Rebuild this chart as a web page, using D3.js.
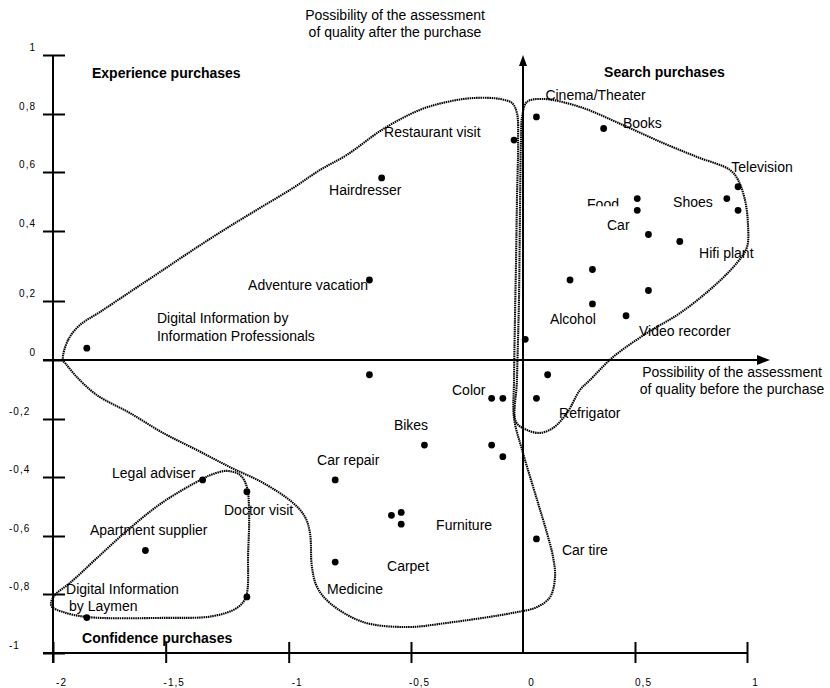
<!DOCTYPE html>
<html><head><meta charset="utf-8">
<script src="https://cdn.jsdelivr.net/npm/d3@7"></script>
<style>
body{margin:0;background:#fff}
text{font-family:"Liberation Sans",Arial,Helvetica,sans-serif;fill:#000}
</style>
</head><body>
<svg id="c" width="830" height="688"></svg>
<script>
// ---------- data ----------
const xTicks = [-2, -1.5, -1, -0.5, 0, 0.5, 1];
const xTickLabels = ["-2", "-1,5", "-1", "-0,5", "0", "0,5", "1"];
const yTicks = [1, 0.8, 0.6, 0.4, 0.2, 0, -0.2, -0.4, -0.6, -0.8, -1];
const yTickLabels = ["1", "0,8", "0,6", "0,4", "0,2", "0", "-0,2", "-0,4", "-0,6", "-0,8", "-1"];

const points = [
  [0.06, 0.79], [0.36, 0.75], [-0.04, 0.71], [0.96, 0.55], [0.91, 0.51], [0.96, 0.47],
  [0.51, 0.51], [0.51, 0.47], [0.56, 0.39], [0.70, 0.37], [0.31, 0.29], [0.21, 0.26],
  [0.56, 0.23], [0.31, 0.19], [0.46, 0.15], [0.01, 0.07], [0.11, -0.05], [-0.67, -0.05],
  [-0.14, -0.13], [-0.09, -0.13], [0.06, -0.13], [-0.44, -0.29], [-0.14, -0.29], [-0.09, -0.33],
  [-0.81, -0.41], [-0.58, -0.53], [-0.54, -0.52], [-0.54, -0.56], [0.06, -0.61], [-0.81, -0.69],
  [-1.85, 0.04], [-0.62, 0.58], [-0.67, 0.26], [-1.35, -0.41], [-1.17, -0.45], [-1.59, -0.65],
  [-1.17, -0.81], [-1.85, -0.88]
];

const labels = [
  ["Cinema/Theater", 0.10, 0.864], ["Books", 0.446, 0.769], ["Restaurant visit", -0.61, 0.738],
  ["Television", 0.93, 0.617], ["Shoes", 0.67, 0.498], ["Food", 0.286, 0.49], ["Car", 0.375, 0.42],
  ["Hifi plant", 0.786, 0.337], ["Alcohol", 0.12, 0.139], ["Video recorder", 0.518, 0.098],
  ["Color", -0.317, -0.102], ["Refrigator", 0.161, -0.18], ["Bikes", -0.57, -0.221],
  ["Car repair", -0.884, -0.341], ["Furniture", -0.388, -0.563], ["Car tire", 0.174, -0.648],
  ["Carpet", -0.598, -0.703], ["Medicine", -0.843, -0.783], ["Hairdresser", -0.835, 0.539],
  ["Adventure vacation", -1.165, 0.246], ["Digital Information by", -1.539, 0.142],
  ["Information Professionals", -1.539, 0.081], ["Legal adviser", -1.738, -0.386],
  ["Doctor visit", -1.263, -0.512], ["Apartment supplier", -1.836, -0.58],
  ["Digital Information", -1.942, -0.783], ["by Laymen", -1.929, -0.841]
];

const regionLabels = [
  ["Experience purchases", -1.827, 0.939],
  ["Search purchases", 0.362, 0.942],
  ["Confidence purchases", -1.871, -0.949]
];

const axisTitleTop = ["Possibility of the assessment", "of quality after the purchase"];
const axisTitleRight = ["Possibility of the assessment", "of quality before the purchase"];

const outlineExperience = [
  [-1.956, 0], [-1.933, 0.068], [-1.880, 0.119], [-1.791, 0.163], [-1.658, 0.226], [-1.525, 0.283],
  [-1.389, 0.346], [-1.251, 0.410], [-1.117, 0.478], [-0.982, 0.546], [-0.872, 0.607], [-0.762, 0.659],
  [-0.614, 0.748], [-0.460, 0.814], [-0.339, 0.841], [-0.223, 0.854], [-0.103, 0.851], [-0.049, 0.837],
  [-0.027, 0.803], [-0.022, 0.700], [-0.027, 0.505], [-0.031, 0.317], [-0.036, 0.136], [-0.040, -0.068],
  [-0.040, -0.197], [0, -0.317], [0.063, -0.478], [0.107, -0.590], [0.134, -0.672], [0.143, -0.741],
  [0.121, -0.810], [0.063, -0.844], [-0.045, -0.864], [-0.339, -0.898], [-0.516, -0.912], [-0.696, -0.895],
  [-0.831, -0.831], [-0.884, -0.776], [-0.905, -0.707], [-0.913, -0.590], [-0.933, -0.536], [-0.982, -0.488],
  [-1.104, -0.420], [-1.239, -0.366], [-1.373, -0.307], [-1.512, -0.248], [-1.658, -0.180], [-1.805, -0.119],
  [-1.894, -0.058], [-1.942, -0.014]
];

const outlineSearch = [
  [-0.004, 0.790], [0.018, 0.841], [0.089, 0.851], [0.254, 0.824], [0.446, 0.762], [0.625, 0.700],
  [0.777, 0.652], [0.924, 0.607], [0.960, 0.573], [0.991, 0.505], [1.004, 0.427], [1.0, 0.354],
  [0.955, 0.309], [0.848, 0.240], [0.701, 0.159], [0.554, 0.092], [0.402, 0.010], [0.299, -0.068],
  [0.254, -0.102], [0.196, -0.180], [0.134, -0.231], [0.076, -0.248], [0.018, -0.238], [-0.031, -0.210],
  [-0.027, -0.068], [-0.018, 0.203], [-0.013, 0.505], [-0.009, 0.710]
];

const outlineConfidence = [
  [-2.009, -0.831], [-1.991, -0.803], [-1.925, -0.762], [-1.805, -0.676], [-1.658, -0.573], [-1.512, -0.485],
  [-1.352, -0.407], [-1.308, -0.390], [-1.251, -0.379], [-1.198, -0.393], [-1.170, -0.434], [-1.161, -0.522],
  [-1.165, -0.659], [-1.174, -0.810], [-1.210, -0.847], [-1.308, -0.875], [-1.512, -0.881], [-1.849, -0.878],
  [-1.956, -0.861], [-2.004, -0.844]
];

// ---------- layout ----------
const xRange = [53, 165.7, 288.7, 411, 523, 635, 747];
const yRange = [55, 114, 172, 231, 301, 360, 419, 477, 536, 594, 653];

const svg = d3.select("#c");
const x = d3.scaleLinear().domain(xTicks).range(xRange);
const y = d3.scaleLinear().domain(yTicks).range(yRange);

const ink = "#000";

// outlines
const line = d3.line().x(d => x(d[0])).y(d => y(d[1])).curve(d3.curveCatmullRomClosed.alpha(0.5));
[outlineExperience, outlineSearch, outlineConfidence].forEach(o => {
  svg.append("path").attr("d", line(o)).attr("fill", "none")
    .attr("stroke", ink).attr("stroke-width", 2.1).attr("stroke-dasharray", "1.5,0.7");
});

// left axis
const gy = svg.append("g").attr("transform", `translate(${x(-2)},0)`)
  .call(d3.axisLeft(y).tickValues(yTicks).tickSize(10).tickFormat(""));
gy.select(".domain").remove();
gy.selectAll(".tick text").remove();
gy.selectAll(".tick line").attr("x1", -10).attr("x2", 12).attr("stroke", ink).attr("stroke-width", 2);
gy.append("line").attr("x1", 0).attr("x2", 0).attr("y1", y(1)).attr("y2", y(-1) + 10)
  .attr("stroke", ink).attr("stroke-width", 2);
gy.selectAll(".tick").append("text")
  .attr("x", (d) => d < 0 ? -44 : -17)
  .attr("y", -8)
  .attr("text-anchor", d => d < 0 ? "start" : "end")
  .attr("dominant-baseline", "central")
  .style("font-size", "10px").style("letter-spacing", "1px")
  .text((d, i) => yTickLabels[i]);

// bottom axis
const gx = svg.append("g").attr("transform", `translate(0,${y(-1)})`)
  .call(d3.axisBottom(x).tickValues(xTicks).tickSize(10).tickFormat(""));
gx.select(".domain").remove();
gx.selectAll(".tick text").remove();
gx.selectAll(".tick line").attr("y1", -11).attr("y2", 10).attr("stroke", ink).attr("stroke-width", 2)
  .attr("display", d => d === 0 ? "none" : null);
gx.append("line").attr("x1", x(-2) - 10).attr("x2", x(1)).attr("y1", 0).attr("y2", 0)
  .attr("stroke", ink).attr("stroke-width", 2);
gx.selectAll(".tick").append("text")
  .attr("x", 8).attr("y", 29)
  .attr("text-anchor", "middle").attr("dominant-baseline", "central")
  .style("font-size", "10px").style("letter-spacing", "1px")
  .text((d, i) => xTickLabels[i]);

// horizontal arrow (x axis at y=0)
const hx0 = x(-2) - 10, hx1 = x(1) + 23, hy = y(0);
svg.append("line").attr("x1", hx0).attr("x2", hx1 - 10).attr("y1", hy).attr("y2", hy)
  .attr("stroke", ink).attr("stroke-width", 2);
svg.append("path").attr("d", `M${hx1},${hy} L${hx1 - 13},${hy - 5} L${hx1 - 13},${hy + 5} Z`).attr("fill", ink);

// vertical arrow (at x=0)
const vx = x(0), vy0 = y(-1), vy1 = y(1);
svg.append("line").attr("x1", vx).attr("x2", vx).attr("y1", vy0).attr("y2", vy1 + 8)
  .attr("stroke", ink).attr("stroke-width", 2);
svg.append("path").attr("d", `M${vx},${vy1} L${vx - 4},${vy1 + 11} L${vx + 4},${vy1 + 11} Z`).attr("fill", ink);

// points
svg.append("g").selectAll("circle").data(points).join("circle")
  .attr("cx", d => x(d[0])).attr("cy", d => y(d[1])).attr("r", 3.4).attr("fill", ink);

// labels
const lab = svg.append("g").selectAll("text").data(labels).join("text")
  .attr("x", d => x(d[1])).attr("y", d => y(d[2]))
  .attr("dominant-baseline", "central")
  .style("font-size", "14px")
  .text(d => d[0]);

// partially hidden "Food" label
lab.filter(d => d[0] === "Food").each(function () {
  const b = this.getBBox();
  svg.append("clipPath").attr("id", "foodclip").append("rect")
    .attr("x", b.x - 2).attr("y", b.y - 2).attr("width", b.width + 4).attr("height", b.height * 0.62 + 2);
  d3.select(this).attr("clip-path", "url(#foodclip)");
});

svg.append("g").selectAll("text").data(regionLabels).join("text")
  .attr("x", d => x(d[1])).attr("y", d => y(d[2]))
  .attr("dominant-baseline", "central")
  .style("font-size", "14px").style("font-weight", "bold")
  .text(d => d[0]);

// axis titles
svg.append("g").selectAll("text").data(axisTitleTop).join("text")
  .attr("x", 395).attr("y", (d, i) => 15 + i * 17)
  .attr("text-anchor", "middle").attr("dominant-baseline", "central")
  .style("font-size", "14px").text(d => d);

svg.append("g").selectAll("text").data(axisTitleRight).join("text")
  .attr("x", 732).attr("y", (d, i) => 372 + i * 17)
  .attr("text-anchor", "middle").attr("dominant-baseline", "central")
  .style("font-size", "14px").text(d => d);
</script>
</body></html>
